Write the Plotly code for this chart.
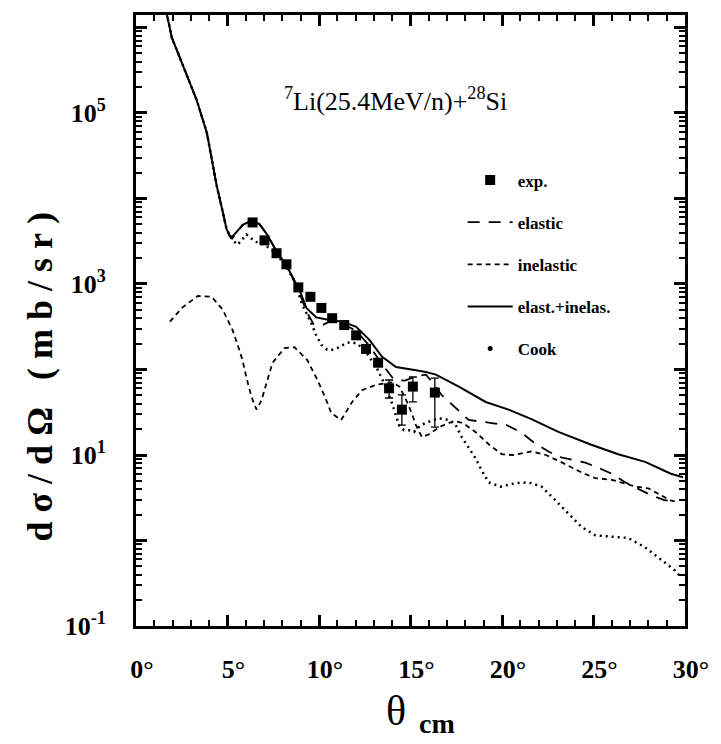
import plotly.graph_objects as go

# ---------------- data ----------------
theta_total = [1.50, 1.69, 1.96, 2.40, 3.32, 3.87, 4.41, 4.68, 4.95, 5.12, 5.25, 5.50, 5.82, 6.31, 6.75,
               7.19, 7.68, 8.27, 8.93, 9.31, 9.85, 10.56, 11.27, 12.03, 12.74, 13.45, 14.21, 15.30,
               15.84, 16.39, 17.64, 19.11, 20.36, 21.61, 23.08, 24.88, 26.35, 27.82, 29.23, 29.89]
sigma_total = [2.82e6, 1.41e6, 7.59e5, 4.47e5, 1.41e5, 5.89e4, 1.41e4, 7940, 4370, 3720, 3550, 4070,
               4900, 5500, 5010, 3720, 2400, 1580, 851, 525, 407, 380, 363, 316, 224, 141, 107, 97.7,
               93.3, 87.1, 63.1, 41.7, 33.9, 26.3, 18.6, 13.2, 10.2, 8.32, 6.03, 5.50]

theta_elastic = [1.50, 1.69, 1.96, 2.40, 3.32, 3.87, 4.41, 4.68, 4.95, 5.12, 5.25, 5.50, 5.82, 6.31,
                 6.75, 7.19, 7.68, 8.27, 8.93, 9.31, 9.70, 10.20, 10.56, 11.27, 12.03, 12.74, 13.45,
                 14.10, 14.70, 15.30, 15.84, 16.20, 16.71, 17.47, 18.18, 18.89, 19.54, 20.25, 21.07,
                 21.72, 22.54, 23.08, 23.90, 24.55, 25.26, 25.91, 26.73, 27.44, 28.14, 28.91, 29.50]
sigma_elastic = [2.82e6, 1.41e6, 7.59e5, 4.47e5, 1.41e5, 5.89e4, 1.41e4, 7940, 4370, 3630, 3390, 3980,
                 4900, 5500, 5010, 3720, 2400, 1580, 794, 479, 339, 331, 363, 347, 282, 191, 115,
                 75.9, 74.1, 83.2, 87.1, 70.8, 50.1, 35.5, 25.7, 24.5, 23.4, 22.4, 18.2,
                 14.1, 11.0, 9.55, 8.71, 8.13, 7.08, 6.17, 4.79, 4.07, 3.39, 2.95, 2.95]

theta_inelastic = [1.85, 2.56, 3.38, 4.14, 4.74, 5.28, 5.55, 5.82, 6.04, 6.31, 6.59, 6.86, 7.13, 7.46,
                   8.11, 8.66, 9.36, 9.91, 10.40, 10.67, 11.21, 11.81, 12.36, 13.12, 13.99, 14.40,
                   14.90, 15.30, 15.62, 16.00, 16.60, 17.40, 17.90, 18.60, 19.30, 20.00, 20.60, 21.60,
                   22.40, 23.20, 24.40, 25.10, 26.00, 27.30, 28.00, 28.70, 29.20, 29.60]
sigma_inelastic = [363, 537, 724, 708, 501, 288, 195, 129, 79.4, 47.9, 33.9, 43.7, 69.2, 120,
                   178, 182, 129, 75.9, 43.7, 30.9, 25.7, 41.7, 57.5, 66.1, 70.8, 63.1,
                   38.0, 22.4, 16.2, 17.4, 21.4, 25.1, 23.4, 18.2, 13.2, 10.2, 10.0, 11.0,
                   10.0, 8.32, 6.17, 5.37, 5.13, 4.27, 4.07, 3.39, 2.95, 2.82]

theta_cook = [1.50, 1.69, 1.96, 2.40, 3.32, 3.87, 4.41, 4.68, 4.95, 5.25, 5.55, 5.80, 6.04, 6.31,
              6.59, 6.91, 7.30, 7.68, 8.27, 8.70, 9.04, 9.58, 9.85, 10.13, 10.45, 10.72, 11.10,
              11.49, 11.76, 12.10, 12.60, 13.20, 13.60, 14.00, 14.37, 14.64, 14.92, 15.19, 15.57,
              16.00, 16.55, 17.09, 17.47, 17.80, 18.07, 18.35, 18.56, 18.89, 19.27, 19.92, 20.74,
              21.45, 22.16, 22.92, 23.63, 24.33, 25.10, 26.18, 26.89, 27.82, 28.69, 29.45, 29.78]
sigma_cook = [2.82e6, 1.41e6, 7.59e5, 4.47e5, 1.41e5, 5.89e4, 1.41e4, 7940, 4370, 3310, 2880, 3310,
              3800, 3390, 3090, 2950, 2630, 2240, 1510, 1050, 603, 347, 251, 195, 170, 170, 182,
              204, 209, 200, 158, 100, 66.1, 39.8, 22.4, 19.5, 19.5, 18.6, 22.4,
              24.5, 26.9, 25.7, 22.4, 16.2, 13.2, 11.0, 9.12, 6.61, 4.79, 4.27, 4.68,
              4.79, 4.27, 2.95, 2.09, 1.45, 1.15, 1.10, 1.07, 0.832, 0.589, 0.447, 0.372]

theta_exp = [6.37, 7.02, 7.68, 8.22, 8.87, 9.53, 10.13, 10.72, 11.38, 12.03, 12.57, 13.23, 13.83,
             14.53, 15.13, 16.33]
sigma_exp = [5250, 3240, 2290, 1700, 912, 708, 525, 398, 331, 251, 174, 120, 60.3, 33.9, 63.1, 53.7]
err_plus = [0, 0, 0, 0, 0, 0, 0, 0, 0, 0, 0, 0, 15.1, 16.5, 18.6, 25.7]
err_minus = [0, 0, 0, 0, 0, 0, 0, 0, 0, 0, 0, 0, 13.9, 11.5, 21.4, 32.5]

# tick marks: every degree / every 1..9 x decade (short); labels at 5 deg and odd decades
x_major = [0, 5, 10, 15, 20, 25, 30]
x_labels = {0: "0°", 5: "5°", 10: "10°", 15: "15°", 20: "20°", 25: "25°", 30: "30°"}
x_tickvals = list(range(0, 31))
x_ticktext = [x_labels.get(v, "") for v in x_tickvals]

y_major = [0.1, 1, 10, 100, 1000, 1e4, 1e5, 1e6]
y_labels = {-1: "10<sup>-1</sup>", 1: "10<sup>1</sup>", 3: "10<sup>3</sup>", 5: "10<sup>5</sup>"}
y_tickvals = []
y_ticktext = []
for d in range(-1, 7):
    for m in range(1, 10):
        y_tickvals.append(m * 10.0 ** d)
        y_ticktext.append(y_labels.get(d, "") if m == 1 else "")

FONT = "Liberation Serif"
NB = "\u00a0"
X_RANGE = [0, 30]
Y_RANGE = [-1, 6.146]

fig = go.Figure()

fig.add_trace(go.Scatter(
    x=theta_exp, y=sigma_exp, mode="markers", name="exp.", legendgroup="a",
    marker=dict(symbol="square", size=10, color="black"),
    error_y=dict(type="data", symmetric=False, array=err_plus, arrayminus=err_minus,
                 thickness=1.3, width=4, color="black")))
fig.add_trace(go.Scatter(
    x=theta_elastic, y=sigma_elastic, mode="lines", name="elastic", legendgroup="b",
    line=dict(color="black", width=1.8, dash="12px,9px")))
fig.add_trace(go.Scatter(
    x=theta_inelastic, y=sigma_inelastic, mode="lines", name="inelastic", legendgroup="c",
    line=dict(color="black", width=1.8, dash="5px,4px")))
fig.add_trace(go.Scatter(
    x=theta_total, y=sigma_total, mode="lines", name="elast.+inelas.", legendgroup="d",
    line=dict(color="black", width=2)))
fig.add_trace(go.Scatter(
    x=theta_cook, y=sigma_cook, mode="lines", name="Cook", legendgroup="e", showlegend=False,
    line=dict(color="black", width=2.5, dash="2px,4px")))
fig.add_trace(go.Scatter(
    x=[None], y=[None], mode="markers", name="Cook", legendgroup="e",
    marker=dict(symbol="circle", size=5, color="black")))
# empty trace so that the overlay axes carrying the long ticks are drawn
fig.add_trace(go.Scatter(
    x=[None], y=[None], xaxis="x2", yaxis="y2", mode="lines", showlegend=False, hoverinfo="skip"))

fig.update_layout(
    width=721, height=744,
    margin=dict(l=136, r=34, t=15, b=118),
    paper_bgcolor="white", plot_bgcolor="white",
    font=dict(family=FONT, color="black"),
    showlegend=True,
    legend=dict(x=0.595, y=0.7585, xanchor="left", yanchor="top",
                bgcolor="rgba(0,0,0,0)", itemwidth=45, tracegroupgap=17,
                font=dict(family=FONT, size=17, weight="bold")),
    xaxis=dict(
        range=X_RANGE, showline=True, linewidth=3, linecolor="black", mirror="allticks",
        ticks="inside", ticklen=6, tickwidth=2, tickcolor="black",
        tickvals=x_tickvals, ticktext=x_ticktext, ticklabelstandoff=18, ticklabelshift=6,
        tickfont=dict(family=FONT, size=26, weight="bold"),
        showgrid=False, zeroline=False),
    yaxis=dict(
        type="log", range=Y_RANGE, showline=True, linewidth=3, linecolor="black", mirror="allticks",
        ticks="inside", ticklen=6, tickwidth=1.8, tickcolor="black",
        tickvals=y_tickvals, ticktext=y_ticktext, ticklabelstandoff=22,
        tickfont=dict(family=FONT, size=26, weight="bold"),
        showgrid=False, zeroline=False),
    xaxis2=dict(
        overlaying="x", anchor="y2", side="bottom", range=X_RANGE,
        showline=True, linewidth=3, linecolor="black", mirror="allticks",
        ticks="inside", ticklen=11, tickwidth=2.5, tickcolor="black",
        tickvals=x_major, showticklabels=False, showgrid=False, zeroline=False),
    yaxis2=dict(
        overlaying="y", anchor="x2", side="left", type="log", range=Y_RANGE,
        showline=True, linewidth=3, linecolor="black", mirror="allticks",
        ticks="inside", ticklen=11, tickwidth=2.5, tickcolor="black",
        tickvals=y_major, showticklabels=False, showgrid=False, zeroline=False),
)

fig.add_annotation(
    text="<sup>7</sup>Li(25.4MeV/n)+<sup>28</sup>Si", xref="paper", yref="paper",
    x=0.472, y=0.861, showarrow=False, xanchor="center", yanchor="middle",
    font=dict(family=FONT, size=26, color="black"))

ylabel = NB.join(list("dσ/dΩ")) + NB * 3 + NB.join(list("(mb/sr)"))
fig.add_annotation(
    text=ylabel, xref="paper", yref="paper",
    x=-0.174, y=0.4075, showarrow=False, textangle=-90, xanchor="center", yanchor="middle",
    font=dict(family=FONT, size=36, weight="bold", color="black"))

fig.add_annotation(
    text="θ", xref="paper", yref="paper",
    x=0.4737, y=-0.139, showarrow=False, xanchor="center", yanchor="middle",
    font=dict(family=FONT, size=42, color="black"))
fig.add_annotation(
    text="cm", xref="paper", yref="paper",
    x=0.548, y=-0.160, showarrow=False, xanchor="center", yanchor="middle",
    font=dict(family=FONT, size=28, weight="bold", color="black"))

fig.write_html("out.html")
